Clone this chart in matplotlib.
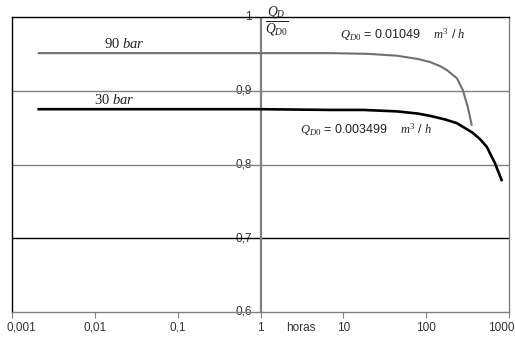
import matplotlib
matplotlib.use("Agg")
import matplotlib.pyplot as plt
import numpy as np

plt.rcParams['mathtext.fontset'] = 'custom'
plt.rcParams['mathtext.it'] = 'Liberation Serif:italic'
plt.rcParams['mathtext.rm'] = 'Liberation Serif'
plt.rcParams['font.family'] = 'Liberation Sans'

# Data
t90 = [0.0021, 1.0, 6.9, 20.0, 44.6, 80.0, 111.0, 150.0, 178.0, 235.0, 277.0, 318.0, 354.0]
q90 = [0.951, 0.951, 0.951, 0.950, 0.9475, 0.943, 0.939, 0.933, 0.928, 0.917, 0.901, 0.878, 0.854]
t30 = [0.0021, 1.0, 6.9, 17.4, 44.6, 80.0, 111.0, 170.0, 235.0, 365.0, 450.0, 539.0, 675.0, 814.0]
q30 = [0.875, 0.875, 0.874, 0.874, 0.872, 0.869, 0.866, 0.861, 0.856, 0.843, 0.834, 0.824, 0.802, 0.779]

x_ticks = [0.001, 0.01, 0.1, 1, 10, 100, 1000]
x_labels = ["0,001", "0,01", "0,1", "1", "10", "100", "1000"]
y_ticks = [0.6, 0.7, 0.8, 0.9, 1.0]
y_labels = ["0,6", "0,7", "0,8", "0,9", "1"]

fig = plt.figure(figsize=(5.15, 3.42), dpi=100)
ax = fig.add_axes([12/515, 1-312/342, (509-12)/515, (312-17)/342])
ax.set_xscale('log')
ax.set_xlim(0.001, 1000)
ax.set_ylim(0.6, 1.0)

# gridlines
grid_colors = {0.7: 'black', 0.8: '#808080', 0.9: '#808080'}
for yv, c in grid_colors.items():
    ax.axhline(yv, color=c, lw=1.0, zorder=1)
ax.axvline(1, color='#808080', lw=1.6, zorder=1)

ax.plot(t90, q90, color='#707070', lw=1.5, zorder=3)
ax.plot(t30, q30, color='black', lw=1.9, zorder=3)

for s in ['left', 'top']:
    ax.spines[s].set_color('black')
    ax.spines[s].set_linewidth(1.0)
for s in ['right', 'bottom']:
    ax.spines[s].set_color('#808080')
    ax.spines[s].set_linewidth(1.0)

ax.set_xticks(x_ticks)
ax.set_xticklabels([])
ax.xaxis.set_minor_locator(matplotlib.ticker.NullLocator())
ax.tick_params(axis='x', direction='out', length=4, color='#808080')
ax.set_yticks([])

xoffs = [9, 0, 0, 0, 0, 0, -8]
for xv, lab, dx in zip(x_ticks, x_labels, xoffs):
    ax.annotate(lab, xy=(xv, 0), xycoords=ax.get_xaxis_transform(),
                xytext=(dx, -16), textcoords='offset pixels',
                ha='center', va='center', fontsize=8.5, color='#333333', annotation_clip=False)

for yv, lab in zip(y_ticks, y_labels):
    ax.text(0.78, yv, lab, ha='right', va='center', fontsize=8.5, color='#333333', zorder=0)

ax.annotate("horas", xy=(3.03, 0), xycoords=ax.get_xaxis_transform(),
            xytext=(0, -16), textcoords='offset pixels', ha='center', va='center',
            fontsize=8.5, color='#333333', annotation_clip=False)

ax.text(1.6, 0.992, r"$\frac{Q_D}{Q_{D0}}$", ha='center', va='center', fontsize=14, color='#222222')
ax.text(9.2, 0.976, r"$Q_{D0}$ = 0.01049    $m^3$ / $h$", ha='left', va='center', fontsize=9, color='#222222')
ax.text(3.03, 0.847, r"$Q_{D0}$ = 0.003499    $m^3$ / $h$", ha='left', va='center', fontsize=9, color='#222222')
ax.text(0.0129, 0.963, r"90 $bar$", ha='left', va='center', fontsize=10.5, color='#222222',
        family='Liberation Serif')
ax.text(0.0098, 0.8875, r"30 $bar$", ha='left', va='center', fontsize=10.5, color='#222222',
        family='Liberation Serif')

fig.savefig("out.png", dpi=100)
